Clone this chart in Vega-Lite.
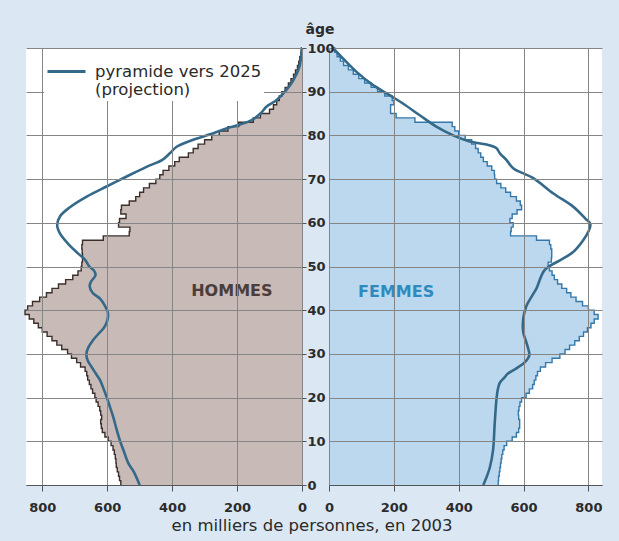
{
  "$schema": "https://vega.github.io/schema/vega-lite/v6.json",
  "autosize": {"type": "none"},
  "padding": {"left": 26, "top": 48, "right": 593, "bottom": 493},
  "background": "#dbe8f4",
  "datasets": {
    "pop2003": [
      {"age":0,"hommes":558,"femmes":522},{"age":1,"hommes":562,"femmes":523},{"age":2,"hommes":565,"femmes":525},{"age":3,"hommes":569,"femmes":527},{"age":4,"hommes":572,"femmes":529},
      {"age":5,"hommes":573,"femmes":531},{"age":6,"hommes":575,"femmes":533},{"age":7,"hommes":578,"femmes":536},{"age":8,"hommes":582,"femmes":540},{"age":9,"hommes":588,"femmes":548},
      {"age":10,"hommes":597,"femmes":565},{"age":11,"hommes":607,"femmes":578},{"age":12,"hommes":615,"femmes":585},{"age":13,"hommes":618,"femmes":588},{"age":14,"hommes":620,"femmes":588},
      {"age":15,"hommes":617,"femmes":585},{"age":16,"hommes":620,"femmes":584},{"age":17,"hommes":623,"femmes":586},{"age":18,"hommes":628,"femmes":589},{"age":19,"hommes":634,"femmes":594},
      {"age":20,"hommes":638,"femmes":608},{"age":21,"hommes":645,"femmes":618},{"age":22,"hommes":650,"femmes":628},{"age":23,"hommes":655,"femmes":633},{"age":24,"hommes":660,"femmes":638},
      {"age":25,"hommes":663,"femmes":643},{"age":26,"hommes":668,"femmes":652},{"age":27,"hommes":682,"femmes":668},{"age":28,"hommes":694,"femmes":688},{"age":29,"hommes":710,"femmes":712},
      {"age":30,"hommes":722,"femmes":728},{"age":31,"hommes":740,"femmes":742},{"age":32,"hommes":755,"femmes":758},{"age":33,"hommes":770,"femmes":772},{"age":34,"hommes":785,"femmes":785},
      {"age":35,"hommes":800,"femmes":797},{"age":36,"hommes":812,"femmes":808},{"age":37,"hommes":826,"femmes":818},{"age":38,"hommes":840,"femmes":830},{"age":39,"hommes":853,"femmes":818},
      {"age":40,"hommes":845,"femmes":800},{"age":41,"hommes":830,"femmes":782},{"age":42,"hommes":808,"femmes":762},{"age":43,"hommes":787,"femmes":746},{"age":44,"hommes":770,"femmes":733},
      {"age":45,"hommes":750,"femmes":718},{"age":46,"hommes":728,"femmes":705},{"age":47,"hommes":706,"femmes":695},{"age":48,"hommes":690,"femmes":688},{"age":49,"hommes":680,"femmes":680},
      {"age":50,"hommes":678,"femmes":676},{"age":51,"hommes":676,"femmes":686},{"age":52,"hommes":676,"femmes":687},{"age":53,"hommes":677,"femmes":687},{"age":54,"hommes":678,"femmes":684},
      {"age":55,"hommes":676,"femmes":680},{"age":56,"hommes":612,"femmes":640},{"age":57,"hommes":532,"femmes":560},{"age":58,"hommes":530,"femmes":562},{"age":59,"hommes":565,"femmes":568},
      {"age":60,"hommes":562,"femmes":558},{"age":61,"hommes":542,"femmes":565},{"age":62,"hommes":558,"femmes":580},{"age":63,"hommes":556,"femmes":594},{"age":64,"hommes":532,"femmes":590},
      {"age":65,"hommes":512,"femmes":578},{"age":66,"hommes":500,"femmes":560},{"age":67,"hommes":488,"femmes":545},{"age":68,"hommes":470,"femmes":530},{"age":69,"hommes":450,"femmes":517},
      {"age":70,"hommes":438,"femmes":511},{"age":71,"hommes":428,"femmes":510},{"age":72,"hommes":410,"femmes":502},{"age":73,"hommes":392,"femmes":488},{"age":74,"hommes":378,"femmes":476},
      {"age":75,"hommes":350,"femmes":468},{"age":76,"hommes":335,"femmes":460},{"age":77,"hommes":320,"femmes":452},{"age":78,"hommes":300,"femmes":440},{"age":79,"hommes":278,"femmes":420},
      {"age":80,"hommes":255,"femmes":400},{"age":81,"hommes":228,"femmes":388},{"age":82,"hommes":195,"femmes":380},{"age":83,"hommes":150,"femmes":265},{"age":84,"hommes":128,"femmes":207},
      {"age":85,"hommes":100,"femmes":190},{"age":86,"hommes":88,"femmes":190},{"age":87,"hommes":78,"femmes":200},{"age":88,"hommes":70,"femmes":195},{"age":89,"hommes":62,"femmes":172},
      {"age":90,"hommes":52,"femmes":150},{"age":91,"hommes":42,"femmes":130},{"age":92,"hommes":34,"femmes":110},{"age":93,"hommes":26,"femmes":92},{"age":94,"hommes":20,"femmes":75},
      {"age":95,"hommes":14,"femmes":60},{"age":96,"hommes":10,"femmes":45},{"age":97,"hommes":7,"femmes":35},{"age":98,"hommes":4,"femmes":25},{"age":99,"hommes":2,"femmes":18},
      {"age":100,"hommes":0,"femmes":12}
    ],
    "proj2025_hommes": [
      {"age":0,"v":500},{"age":3,"v":518},{"age":5,"v":535},{"age":8,"v":550},{"age":10,"v":560},{"age":13,"v":572},{"age":15.5,"v":581},{"age":18,"v":592},{"age":20,"v":601},{"age":22,"v":611},{"age":24,"v":622},{"age":25.5,"v":635},{"age":27,"v":648},{"age":28.5,"v":660},{"age":30,"v":664},{"age":31.5,"v":658},{"age":33,"v":645},{"age":34.5,"v":628},{"age":36,"v":610},{"age":37.5,"v":600},{"age":39.5,"v":598},{"age":41,"v":607},{"age":42.5,"v":620},{"age":44,"v":645},{"age":45.5,"v":654},{"age":46.5,"v":650},{"age":48,"v":636},{"age":49,"v":640},{"age":50,"v":655},{"age":51.5,"v":668},{"age":53,"v":690},{"age":55,"v":718},{"age":57.5,"v":745},{"age":59.5,"v":754},{"age":61.5,"v":745},{"age":63.5,"v":716},{"age":66,"v":663},{"age":68.3,"v":602},{"age":70.6,"v":540},{"age":72.8,"v":479},{"age":74.4,"v":430},{"age":75.9,"v":407},{"age":77.4,"v":386},{"age":79,"v":335},{"age":80.5,"v":273},{"age":81.6,"v":233},{"age":82.5,"v":190},{"age":83.5,"v":155},{"age":85,"v":128},{"age":86.6,"v":109},{"age":88.1,"v":78},{"age":90.4,"v":48},{"age":92.6,"v":27},{"age":95.7,"v":8},{"age":98,"v":3},{"age":100,"v":0}
    ],
    "proj2025_femmes": [
      {"age":0,"v":476},{"age":2,"v":487},{"age":4,"v":496},{"age":8,"v":506},{"age":14,"v":511},{"age":20,"v":517},{"age":22,"v":521},{"age":23.4,"v":527},{"age":24.5,"v":540},{"age":25.5,"v":552},{"age":26.7,"v":578},{"age":28.2,"v":605},{"age":29.7,"v":618},{"age":31,"v":615},{"age":32.8,"v":608},{"age":35,"v":599},{"age":38,"v":599},{"age":41,"v":609},{"age":43.5,"v":628},{"age":45,"v":640},{"age":47.3,"v":652},{"age":49,"v":663},{"age":50,"v":678},{"age":51.4,"v":712},{"age":53.3,"v":753},{"age":56,"v":784},{"age":58,"v":800},{"age":59.7,"v":806},{"age":61,"v":790},{"age":63.7,"v":753},{"age":66.7,"v":692},{"age":70.2,"v":630},{"age":72.5,"v":568},{"age":74.4,"v":547},{"age":75.9,"v":527},{"age":77.1,"v":516},{"age":77.9,"v":486},{"age":78.6,"v":434},{"age":80,"v":383},{"age":82,"v":331},{"age":84.6,"v":280},{"age":87.3,"v":228},{"age":89.2,"v":187},{"age":91.5,"v":136},{"age":94.6,"v":84},{"age":97.6,"v":43},{"age":100,"v":12}
    ],
    "labels": [
      {"panel":"h","label":"HOMMES","v":216,"age":44.3},
      {"panel":"f","label":"FEMMES","v":207,"age":44.1}
    ]
  },
  "title": {"text": "en milliers de personnes, en 2003", "orient": "bottom", "anchor": "middle", "fontSize": 16.5, "fontWeight": "normal", "font": "DejaVu Sans", "color": "#2a2a2a", "offset": 4},
  "spacing": 27,
  "bounds": "flush",
  "resolve": {"scale": {"x": "independent", "stroke": "independent"}, "axis": {"x": "independent", "y": "independent"}},
  "hconcat": [
    {
      "width": 276,
      "height": 437,
      "layer": [
        {
          "data": {"name": "pop2003"},
          "mark": {"type": "area", "orient": "horizontal", "interpolate": "step-after", "fill": "#c8bab6"},
          "encoding": {
            "y": {"field": "age", "type": "quantitative", "scale": {"domain": [0, 100], "nice": false},
                  "axis": {"orient": "right", "values": [0,10,20,30,40,50,60,70,80,90,100], "labels": false, "ticks": true, "tickSize": 4, "tickColor": "#555", "grid": true, "domain": false, "title": null, "zindex": 1}},
            "x": {"field": "hommes", "type": "quantitative", "stack": null, "scale": {"domain": [0, 850], "reverse": true, "nice": false},
                  "axis": {"values": [0,100,200,300,400,500,600,700,800], "labelExpr": "datum.value % 200 == 0 ? datum.label : ''", "gridOpacity": {"condition": {"test": "datum.value % 200 != 0", "value": 0}, "value": 1}, "grid": true, "title": null, "tickSize": 6, "labelPadding": 10, "labelOverlap": false, "labelFlush": false, "zindex": 1}}
          }
        },
        {
          "data": {"name": "pop2003"},
          "mark": {"type": "line", "interpolate": "step-before", "color": "#3b2f2c", "strokeWidth": 1.4},
          "encoding": {
            "y": {"field": "age", "type": "quantitative"},
            "x": {"field": "hommes", "type": "quantitative"},
            "order": {"field": "age"}
          }
        },
        {
          "data": {"name": "proj2025_hommes"},
          "mark": {"type": "line", "interpolate": "catmull-rom", "strokeWidth": 2.6},
          "encoding": {
            "y": {"field": "age", "type": "quantitative"},
            "x": {"field": "v", "type": "quantitative"},
            "order": {"field": "age"},
            "stroke": {"datum": "pyramide vers 2025", "scale": {"range": ["#35698a"]},
                       "legend": {"orient": "none", "legendX": 18, "legendY": 1, "title": null, "symbolType": "stroke", "symbolSize": 1444, "symbolStrokeWidth": 3, "labelFontSize": 16.5, "labelFont": "DejaVu Sans", "labelColor": "#2a2a2a", "labelExpr": "['pyramide vers 2025', '(projection)']", "labelOffset": 8, "labelLimit": 0, "fillColor": "white", "padding": 2, "zindex": 2}}
          }
        },
        {
          "data": {"name": "labels"},
          "transform": [{"filter": "datum.panel == 'h'"}],
          "mark": {"type": "text", "font": "DejaVu Sans", "fontWeight": "bold", "fontSize": 16, "color": "#4a3d3a"},
          "encoding": {
            "y": {"field": "age", "type": "quantitative"},
            "x": {"field": "v", "type": "quantitative"},
            "text": {"field": "label"}
          }
        }
      ]
    },
    {
      "width": 273,
      "height": 437,
      "layer": [
        {
          "data": {"name": "pop2003"},
          "mark": {"type": "area", "orient": "horizontal", "interpolate": "step-after", "fill": "#bcd8ee"},
          "encoding": {
            "y": {"field": "age", "type": "quantitative", "scale": {"domain": [0, 100], "nice": false},
                  "axis": {"orient": "left", "values": [0,10,20,30,40,50,60,70,80,90,100], "labels": true, "labelAlign": "left", "labelPadding": 22, "ticks": false, "grid": true, "domain": false, "title": "âge", "titleAngle": 0, "titleAlign": "left", "titleBaseline": "alphabetic", "titleX": -24, "titleY": -15, "titleFontSize": 14, "titleFontWeight": "bold", "titleColor": "#2b2b2b", "zindex": 1}},
            "x": {"field": "femmes", "type": "quantitative", "stack": null, "scale": {"domain": [0, 842], "nice": false},
                  "axis": {"values": [0,100,200,300,400,500,600,700,800], "labelExpr": "datum.value % 200 == 0 ? datum.label : ''", "gridOpacity": {"condition": {"test": "datum.value % 200 != 0", "value": 0}, "value": 1}, "grid": true, "title": null, "tickSize": 6, "labelPadding": 10, "labelOverlap": false, "labelFlush": false, "zindex": 1}}
          }
        },
        {
          "data": {"name": "pop2003"},
          "mark": {"type": "line", "interpolate": "step-before", "color": "#3577a8", "strokeWidth": 1.4},
          "encoding": {
            "y": {"field": "age", "type": "quantitative"},
            "x": {"field": "femmes", "type": "quantitative"},
            "order": {"field": "age"}
          }
        },
        {
          "data": {"name": "proj2025_femmes"},
          "mark": {"type": "line", "interpolate": "catmull-rom", "strokeWidth": 2.6, "color": "#35698a"},
          "encoding": {
            "y": {"field": "age", "type": "quantitative"},
            "x": {"field": "v", "type": "quantitative"},
            "order": {"field": "age"}
          }
        },
        {
          "data": {"name": "labels"},
          "transform": [{"filter": "datum.panel == 'f'"}],
          "mark": {"type": "text", "font": "DejaVu Sans", "fontWeight": "bold", "fontSize": 16, "color": "#2f8bbf"},
          "encoding": {
            "y": {"field": "age", "type": "quantitative"},
            "x": {"field": "v", "type": "quantitative"},
            "text": {"field": "label"}
          }
        }
      ]
    }
  ],
  "config": {
    "view": {"fill": "white", "stroke": null},
    "font": "DejaVu Sans",
    "axis": {"gridColor": "#858585", "gridWidth": 1, "tickColor": "#555", "domainColor": "#555", "labelFont": "DejaVu Sans", "labelFontSize": 13, "labelFontWeight": "bold", "labelColor": "#2b2b2b"}
  }
}
